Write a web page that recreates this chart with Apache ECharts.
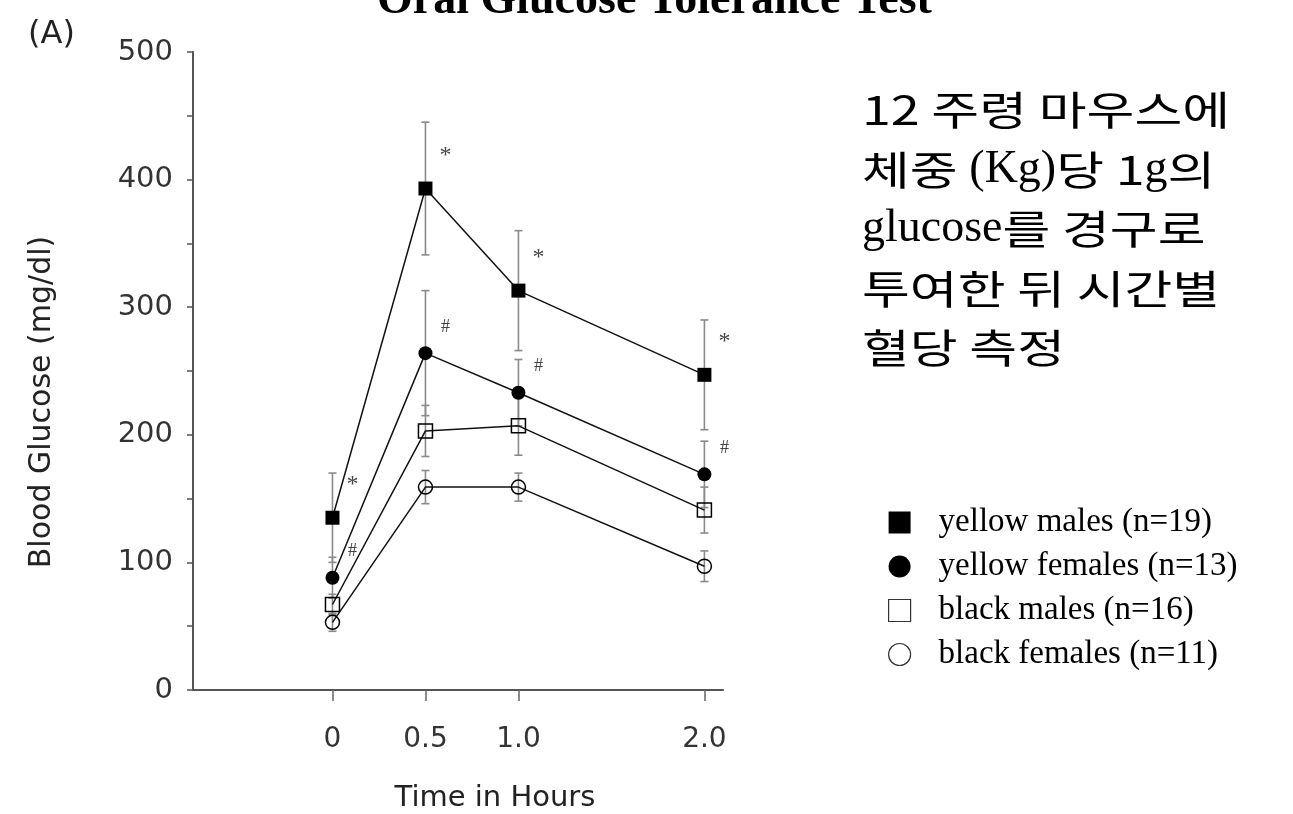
<!DOCTYPE html>
<html>
<head>
<meta charset="utf-8">
<script src="https://cdn.jsdelivr.net/npm/echarts@6/dist/echarts.min.js"></script>
<style>
  html, body { margin: 0; padding: 0; background: #fff; }
  #chart { width: 1293px; height: 814px; }
</style>
</head>
<body>
<div id="chart"></div>
<script>
// Sampling times (hours after oral glucose load) and their tick labels
const hours = [0, 0.5, 1, 2];
const hourLabels = ['0', '0.5', '1.0', '2.0'];
const glucoseTicks = [0, 100, 200, 300, 400, 500];

const groupNames = [
  'yellow males (n=19)',
  'yellow females (n=13)',
  'black males (n=16)',
  'black females (n=11)'
];

// Mean blood glucose (mg/dl) and SEM per group
const yellowMales = [135, 393, 313, 247];
const yellowMalesSem = [35, 52, 47, 43];
const yellowFemales = [88, 264, 233, 169];
const yellowFemalesSem = [16, 49, 26, 26];
const blackMales = [67, 203, 207, 141];
const blackMalesSem = [8, 20, 23, 18];
const blackFemales = [53, 159, 159, 97];
const blackFemalesSem = [7, 13, 11, 12];

// Significance marks next to each time point
const yellowMalesSig = ['*', '*', '*', '*'];
const yellowFemalesSig = ['#', '#', '#', '#'];
const noSig = ['', '', '', ''];

// Side note, split into runs of Korean (k) and Latin serif (s) text
const noteLines = [
  [['k', '12 주령 마우스에']],
  [['k', '체중 '], ['s', '(Kg)'], ['k', '당 1'], ['s', 'g'], ['k', '의']],
  [['s', 'glucose'], ['k', '를 경구로']],
  [['k', '투여한 뒤 시간별']],
  [['k', '혈당 측정']]
];

const SANS = 'DejaVu Sans';
const SERIF = 'Liberation Serif';

const noteFonts = {
  k: '40px "Noto Sans CJK KR"',
  s: '46px "Liberation Serif"'
};
const noteScaleX = { k: 1.3, s: 1 };

function buildNote(left, firstCenter, pitch) {
  const ctx = document.createElement('canvas').getContext('2d');
  const elements = [];
  noteLines.forEach((runs, li) => {
    let x = left;
    const y = firstCenter + li * pitch;
    runs.forEach(([kind, text]) => {
      ctx.font = noteFonts[kind];
      const w = ctx.measureText(text).width * noteScaleX[kind];
      elements.push({
        type: 'text',
        x, y,
        scaleX: noteScaleX[kind],
        style: { text, font: noteFonts[kind], fill: '#000', align: 'left', verticalAlign: 'middle' }
      });
      x += w;
    });
  });
  return elements;
}

function errorBarSeries(means, sems, sigs, sigFont, sigDy) {
  return {
    type: 'custom',
    z: 1,
    silent: true,
    animation: false,
    data: hours.map((t, i) => [t, means[i], sems[i]]),
    encode: { x: 0, y: 1 },
    renderItem(params, api) {
      const t = api.value(0), m = api.value(1), s = api.value(2);
      const top = api.coord([t, m + s]);
      const bot = api.coord([t, m - s]);
      const mid = api.coord([t, m]);
      const cap = 4;
      const st = { stroke: '#8a8a8a', lineWidth: 1.6 };
      const children = [
        { type: 'line', shape: { x1: top[0], y1: top[1], x2: bot[0], y2: bot[1] }, style: st },
        { type: 'line', shape: { x1: top[0] - cap, y1: top[1], x2: top[0] + cap, y2: top[1] }, style: st },
        { type: 'line', shape: { x1: bot[0] - cap, y1: bot[1], x2: bot[0] + cap, y2: bot[1] }, style: st }
      ];
      const mark = sigs[params.dataIndex];
      if (mark) {
        children.push({
          type: 'text',
          x: mid[0] + 20,
          y: mid[1] + sigDy,
          style: { text: mark, font: sigFont, fill: '#444', align: 'center', verticalAlign: 'middle' }
        });
      }
      return { type: 'group', children };
    }
  };
}

function lineSeries(name, means, symbol, filled) {
  return {
    name,
    type: 'line',
    z: 3,
    animation: false,
    data: hours.map((t, i) => [t, means[i]]),
    symbol,
    symbolSize: 14,
    showAllSymbol: true,
    itemStyle: filled
      ? { color: '#000', borderWidth: 0 }
      : { color: 'rgba(0,0,0,0)', borderColor: '#000', borderWidth: 1.5 },
    lineStyle: { color: '#111', width: 1.5 },
    emphasis: { disabled: true }
  };
}

const chart = echarts.init(document.getElementById('chart'), null, { renderer: 'canvas' });

chart.setOption({
  backgroundColor: '#fff',
  animation: false,
  title: {
    text: 'Oral Glucose Tolerance Test',
    left: 372,
    top: -27,
    textStyle: { fontFamily: SERIF, fontWeight: 'bold', fontSize: 46, color: '#000' }
  },
  grid: { left: 193, right: 570, top: 52, bottom: 124, containLabel: false, outerBoundsMode: 'none' },
  xAxis: {
    type: 'value',
    min: -0.75,
    max: 2.1,
    interval: 0.25,
    name: 'Time in Hours',
    nameLocation: 'middle',
    nameGap: 94,
    nameTextStyle: { fontFamily: SANS, fontSize: 29, color: '#222', padding: [0, 0, 0, 74] },
    axisLine: { show: true, onZero: false, lineStyle: { color: '#555', width: 2 } },
    axisTick: { show: true, length: 11, customValues: hours, lineStyle: { color: '#666', width: 1.5 } },
    axisLabel: {
      customValues: hours,
      margin: 36,
      fontFamily: SANS,
      fontSize: 28,
      color: '#333',
      formatter: v => hourLabels[hours.indexOf(v)]
    },
    splitLine: { show: false }
  },
  yAxis: {
    type: 'value',
    min: 0,
    max: 500,
    interval: 50,
    name: 'Blood Glucose (mg/dl)',
    nameLocation: 'middle',
    nameGap: 136,
    nameTextStyle: { fontFamily: SANS, fontSize: 30, color: '#222', padding: [0, 62, 0, 0] },
    axisLine: { show: true, onZero: false, lineStyle: { color: '#555', width: 2 } },
    axisTick: { show: true, length: 6, lineStyle: { color: '#555', width: 1.5 } },
    axisLabel: {
      customValues: glucoseTicks,
      margin: 20,
      fontFamily: SANS,
      fontSize: 29,
      color: '#333'
    },
    splitLine: { show: false }
  },
  legend: {
    orient: 'vertical',
    left: 888,
    top: 506,
    padding: 0,
    itemWidth: 22,
    itemHeight: 22,
    itemGap: 11,
    selectedMode: false,
    data: [
      { name: groupNames[0], icon: 'rect', itemStyle: { color: '#000', borderWidth: 0 } },
      { name: groupNames[1], icon: 'circle', itemStyle: { color: '#000', borderWidth: 0 } },
      { name: groupNames[2], icon: 'rect', itemStyle: { color: '#fff', borderColor: '#333', borderWidth: 1.2 } },
      { name: groupNames[3], icon: 'circle', itemStyle: { color: '#fff', borderColor: '#333', borderWidth: 1.2 } }
    ],
    textStyle: { fontFamily: SERIF, fontSize: 33, color: '#000', lineHeight: 30, padding: [0, 0, 0, 23] }
  },
  graphic: [
    {
      type: 'text',
      left: 28,
      top: 19,
      style: { text: '(A)', font: '32px "DejaVu Sans"', fill: '#222' }
    },
    {
      type: 'group',
      children: buildNote(862, 110, 59.5)
    }
  ],
  series: [
    errorBarSeries(yellowMales, yellowMalesSem, yellowMalesSig, '24px "Liberation Serif"', -33),
    errorBarSeries(yellowFemales, yellowFemalesSem, yellowFemalesSig, '18px "Liberation Serif"', -26),
    errorBarSeries(blackMales, blackMalesSem, noSig, '18px "Liberation Serif"', 0),
    errorBarSeries(blackFemales, blackFemalesSem, noSig, '18px "Liberation Serif"', 0),
    lineSeries(groupNames[0], yellowMales, 'rect', true),
    lineSeries(groupNames[1], yellowFemales, 'circle', true),
    lineSeries(groupNames[2], blackMales, 'rect', false),
    lineSeries(groupNames[3], blackFemales, 'circle', false)
  ]
});
</script>
</body>
</html>
